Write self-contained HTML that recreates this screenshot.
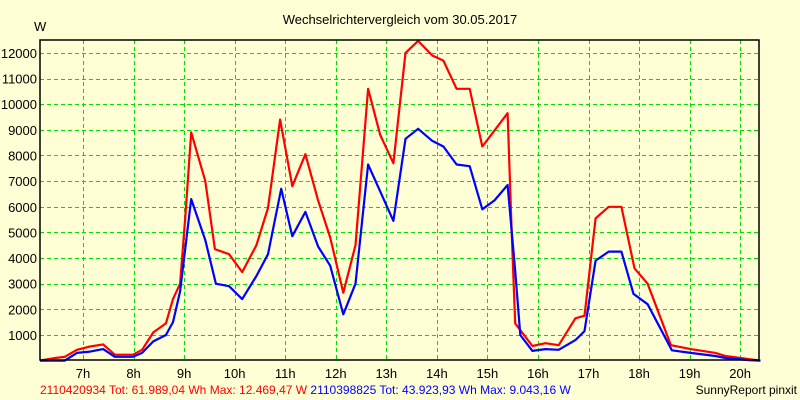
<!DOCTYPE html>
<html><head><meta charset="utf-8"><style>
html,body{margin:0;padding:0;background:#ffffd6;}
svg{display:block;font-family:"Liberation Sans",sans-serif;}
</style></head><body>
<svg id="chart" width="800" height="400">
<rect x="0" y="0" width="800" height="400" fill="#ffffd6"/>
<text x="400" y="24" font-size="13" text-anchor="middle" fill="#000">Wechselrichtervergleich vom 30.05.2017</text>
<text x="34" y="31" font-size="13" fill="#000">W</text>
<g id="grid"></g>
<g id="yticks"></g>
<g id="xticks"></g>
<g id="series"></g>
<rect x="40" y="40" width="719" height="320" fill="none" stroke="#000" stroke-width="1.5"/>
<text x="40" y="394" font-size="12"><tspan fill="#ff0000">2110420934 Tot: 61.989,04 Wh Max: 12.469,47 W</tspan><tspan fill="#0000ff"> 2110398825 Tot: 43.923,93 Wh Max: 9.043,16 W</tspan></text>
<text x="797" y="394" font-size="12" text-anchor="end" fill="#000">SunnyReport pinxit</text>
</svg>
<script>
const yTicks=[1000,2000,3000,4000,5000,6000,7000,8000,9000,10000,11000,12000];
const xTickHours=[7,8,9,10,11,12,13,14,15,16,17,18,19,20];
const redTimes=[6.15,6.45,6.64,6.88,7.14,7.40,7.63,7.99,8.17,8.39,8.64,8.78,8.92,9.02,9.14,9.42,9.61,9.89,10.15,10.43,10.66,10.90,11.14,11.40,11.65,11.89,12.15,12.39,12.64,12.88,13.14,13.38,13.63,13.91,14.13,14.39,14.65,14.90,15.15,15.40,15.48,15.55,15.89,16.15,16.41,16.74,16.92,17.14,17.40,17.65,17.91,18.17,18.63,19.02,19.51,19.71,20.17,20.40];
const redValues=[0,100,150,420,550,630,230,230,420,1100,1450,2400,3000,5500,8900,7000,4350,4150,3450,4500,5950,9400,6800,8050,6250,4800,2650,4500,10600,8800,7700,12000,12470,11900,11700,10600,10600,8350,9000,9650,5000,1450,570,680,600,1650,1750,5550,6000,6000,3600,3000,600,450,300,180,60,0];
const blueTimes=[6.15,6.64,6.88,7.14,7.40,7.63,7.99,8.17,8.39,8.64,8.78,8.92,9.14,9.42,9.63,9.89,10.15,10.43,10.66,10.92,11.14,11.40,11.65,11.89,12.15,12.39,12.64,12.88,13.14,13.38,13.63,13.91,14.13,14.39,14.65,14.90,15.14,15.40,15.55,15.65,15.89,16.15,16.41,16.74,16.92,17.14,17.40,17.65,17.89,18.17,18.65,19.02,19.51,19.71,20.17,20.40];
const blueValues=[0,0,300,350,450,150,150,300,750,1000,1500,2700,6300,4700,3000,2900,2400,3300,4150,6700,4850,5800,4450,3700,1800,3000,7650,6600,5450,8650,9040,8570,8350,7650,7580,5900,6250,6850,3500,1000,380,450,420,800,1150,3900,4250,4250,2600,2200,400,300,180,100,20,0];

const NS="http://www.w3.org/2000/svg";
const X=t=>83+(t-7)*50.55;
const Y=v=>360.6-v*0.02564;
const grid=document.getElementById('grid');
const yt=document.getElementById('yticks');
const xt=document.getElementById('xticks');
yTicks.forEach(v=>{
  const l=document.createElementNS(NS,'line');
  
  
  l.setAttribute('x1',40);l.setAttribute('x2',759);
  l.setAttribute('y1',Math.round(Y(v))+0.5);l.setAttribute('y2',Math.round(Y(v))+0.5);
  l.setAttribute('stroke','#00e000');l.setAttribute('stroke-dasharray','4,3');
  grid.appendChild(l);
  const t=document.createElementNS(NS,'text');
  
  
  t.setAttribute('x',37);t.setAttribute('y',Y(v)+5);
  t.setAttribute('text-anchor','end');t.setAttribute('font-size','13');
  t.textContent=v;
  yt.appendChild(t);
});
xTickHours.forEach(h=>{
  const l=document.createElementNS(NS,'line');
  
  
  l.setAttribute('y1',40);l.setAttribute('y2',360);
  l.setAttribute('x1',Math.round(X(h))+0.5);l.setAttribute('x2',Math.round(X(h))+0.5);
  l.setAttribute('stroke','#00e000');l.setAttribute('stroke-dasharray','4,3');
  grid.appendChild(l);
  const t=document.createElementNS(NS,'text');
  
  
  t.setAttribute('x',X(h));t.setAttribute('y',378);
  t.setAttribute('text-anchor','middle');t.setAttribute('font-size','13');
  t.textContent=h+'h';
  xt.appendChild(t);
});
const sg=document.getElementById('series');
function line(times,vals,color,name){
  const p=document.createElementNS(NS,'polyline');
  
  
  p.setAttribute('points',times.map((t,i)=>X(t).toFixed(1)+','+Y(vals[i]).toFixed(1)).join(' '));
  p.setAttribute('fill','none');p.setAttribute('stroke',color);p.setAttribute('stroke-width','2.2');
  p.setAttribute('stroke-linejoin','round');
  sg.appendChild(p);
}
line(redTimes,redValues,'#ff0000','series-2110420934');
line(blueTimes,blueValues,'#0000ff','series-2110398825');
</script>
</body></html>
